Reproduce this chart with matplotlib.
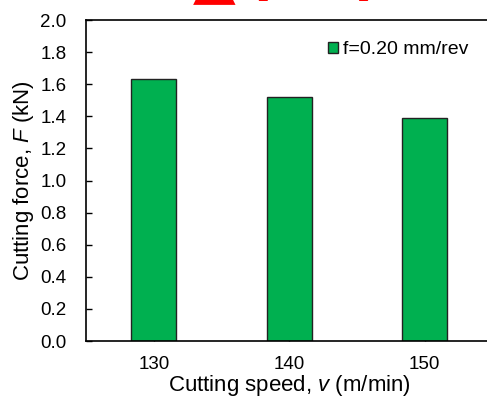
import matplotlib
matplotlib.use("Agg")
import matplotlib.pyplot as plt
import numpy as np

speeds = ["130", "140", "150"]
forces = [1.63, 1.52, 1.39]
series_label = "f=0.20 mm/rev"
yticks = [0.0, 0.2, 0.4, 0.6, 0.8, 1.0, 1.2, 1.4, 1.6, 1.8, 2.0]

plt.rcParams['font.family'] = ['Liberation Sans', 'DejaVu Sans']
plt.rcParams['mathtext.fontset'] = 'custom'
plt.rcParams['mathtext.rm'] = 'Liberation Sans'
plt.rcParams['mathtext.it'] = 'Liberation Sans:italic'

fig = plt.figure(figsize=(4.87, 3.96), dpi=100)
ax = fig.add_axes([86/487, 55/396, 406.5/487, 321/396])

x = np.arange(len(speeds))
ax.bar(x, forces, width=0.33, color='#00B050', edgecolor='#222222', linewidth=1.0,
       label=series_label, zorder=2)

ax.set_xlim(-0.5, 2.5)
ax.set_ylim(0, 2.0)
ax.set_yticks(yticks)
ax.set_yticklabels([f"{v:.1f}" for v in yticks])
ax.set_xticks(x)
ax.set_xticklabels(speeds)
ax.tick_params(axis='both', direction='in', labelsize=13.5, length=4, width=1, color='black')
ax.tick_params(axis='y', pad=14)
ax.tick_params(axis='x', pad=11)
for s in ['left', 'bottom', 'top']:
    ax.spines[s].set_linewidth(1.2)
ax.spines['right'].set_visible(False)

ax.set_xlabel("Cutting speed, $\\it{v}$ (m/min)", fontsize=16, labelpad=-0.5)
ax.set_ylabel("Cutting force, $\\it{F}$ (kN)", fontsize=16, labelpad=3)

leg = ax.legend(loc='center left', bbox_to_anchor=(320/487, 1 - 50/396),
                bbox_transform=fig.transFigure, frameon=False, fontsize=14,
                handlelength=0.55, handleheight=0.55, handletextpad=0.25, borderaxespad=0)

# partially visible red heading at the top edge (cut off in the reference)
fig.text(214/487, 1 + 2/396, "\u25B2", color='red', fontsize=40,
         ha='center', va='baseline', family=['DejaVu Sans'])
fig.text(259/487, 1 + 7/396, "(", color='red', fontsize=44, fontweight='bold',
         ha='center', va='baseline', family=['DejaVu Sans'])
fig.text(367/487, 1 + 7/396, ")", color='red', fontsize=44, fontweight='bold',
         ha='center', va='baseline', family=['DejaVu Sans'])

fig.savefig("out.png", dpi=100)
